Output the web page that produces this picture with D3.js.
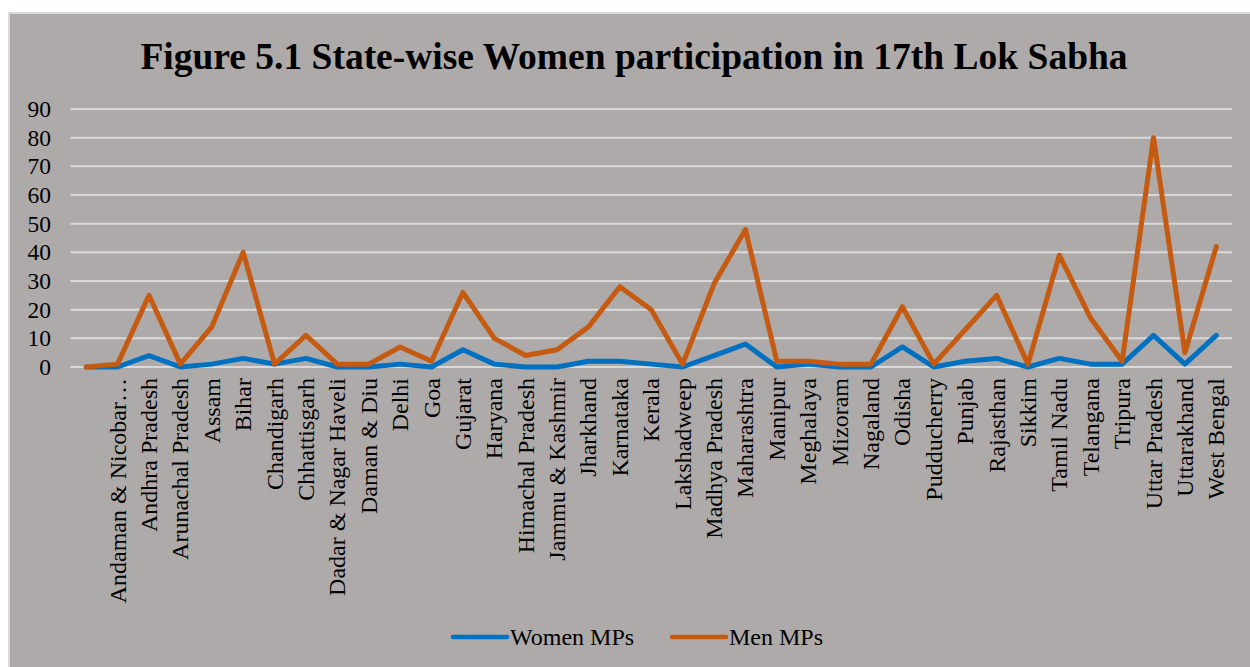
<!DOCTYPE html>
<html>
<head>
<meta charset="utf-8">
<script src="https://cdn.jsdelivr.net/npm/d3@7"></script>
<style>
  body { margin: 0; background: #fff; }
  text { font-family: "Liberation Serif", "Times New Roman", serif; fill: #000; }
</style>
</head>
<body>
<svg id="chart" width="1250" height="667"></svg>
<script>
// first category is blank in the source sheet
const states = ["", "Andaman & Nicobar…", "Andhra Pradesh", "Arunachal Pradesh", "Assam", "Bihar",
  "Chandigarh", "Chhattisgarh", "Dadar & Nagar Haveli", "Daman & Diu", "Delhi", "Goa",
  "Gujarat", "Haryana", "Himachal Pradesh", "Jammu & Kashmir", "Jharkhand", "Karnataka",
  "Kerala", "Lakshadweep", "Madhya Pradesh", "Maharashtra", "Manipur", "Meghalaya",
  "Mizoram", "Nagaland", "Odisha", "Pudducherry", "Punjab", "Rajasthan", "Sikkim",
  "Tamil Nadu", "Telangana", "Tripura", "Uttar Pradesh", "Uttarakhand", "West Bengal"];
const womenMPs = [0, 0, 4, 0, 1, 3, 1, 3, 0, 0, 1, 0, 6, 1, 0, 0, 2, 2, 1, 0, 4, 8, 0, 1,
  0, 0, 7, 0, 2, 3, 0, 3, 1, 1, 11, 1, 11];
const menMPs = [0, 1, 25, 1, 14, 40, 1, 11, 1, 1, 7, 2, 26, 10, 4, 6, 14, 28, 20, 1, 29, 48, 2, 2,
  1, 1, 21, 1, 13, 25, 1, 39, 17, 2, 80, 5, 42];
const yTicks = [0, 10, 20, 30, 40, 50, 60, 70, 80, 90];
const seriesNames = ["Women MPs", "Men MPs"];
const seriesColors = ["#0070C0", "#C55A11"];

const svg = d3.select("#chart");
const margin = {left: 70.5, right: 1232, top: 109, bottom: 367};

// chart background
svg.append("rect")
    .attr("x", 9).attr("y", 13)
    .attr("width", 1250).attr("height", 667)
    .attr("fill", "#AEAAAA")
    .attr("stroke", "#D9D9D9")
    .attr("stroke-width", 2);

svg.append("text")
    .attr("x", 634).attr("y", 69)
    .attr("text-anchor", "middle")
    .style("font-size", "37.5px")
    .style("font-weight", "bold")
    .text("Figure 5.1 State-wise Women participation in 17th Lok Sabha");

const x = d3.scalePoint().domain(d3.range(states.length))
    .range([margin.left, margin.right]).padding(0.5);
const y = d3.scaleLinear().domain([0, 90]).range([margin.bottom, margin.top]);

// gridlines
svg.append("g")
    .selectAll("line")
    .data(yTicks)
    .join("line")
    .attr("x1", margin.left).attr("x2", margin.right)
    .attr("y1", d => y(d)).attr("y2", d => y(d))
    .attr("stroke", "#D9D9D9")
    .attr("stroke-width", 2);

// left axis labels
const leftAxis = d3.axisLeft(y).tickValues(yTicks).tickSize(0).tickPadding(0);
const leftG = svg.append("g")
    .attr("transform", `translate(51,0)`)
    .call(leftAxis);
leftG.select(".domain").remove();
leftG.selectAll("text")
    .style("font-size", "23.5px")
    .style("font-family", "Liberation Serif")
    .attr("fill", "#000");

// category labels
svg.append("g")
    .selectAll("text")
    .data(states)
    .join("text")
    .attr("transform", (d, i) => `translate(${x(i) + 8},${378}) rotate(-90)`)
    .attr("text-anchor", "end")
    .style("font-size", "24px")
    .text(d => d);

// lines
const allSeries = [womenMPs, menMPs];
allSeries.forEach((values, k) => {
    const lineGen = d3.line().x((d, i) => x(i)).y(d => y(d));
    svg.append("path")
        .attr("d", lineGen(values))
        .attr("fill", "none")
        .attr("stroke", seriesColors[k])
        .attr("stroke-width", 5)
        .attr("stroke-linejoin", "round")
        .attr("stroke-linecap", "round");
});

// legend
const legendX = [453, 672];
seriesNames.forEach((name, k) => {
    svg.append("line")
        .attr("x1", legendX[k]).attr("x2", legendX[k] + 54)
        .attr("y1", 637).attr("y2", 637)
        .attr("stroke", seriesColors[k])
        .attr("stroke-width", 4.5)
        .attr("stroke-linecap", "round");
    svg.append("text")
        .attr("x", legendX[k] + 57).attr("y", 645)
        .style("font-size", "24px")
        .text(name);
});
</script>
</body>
</html>
